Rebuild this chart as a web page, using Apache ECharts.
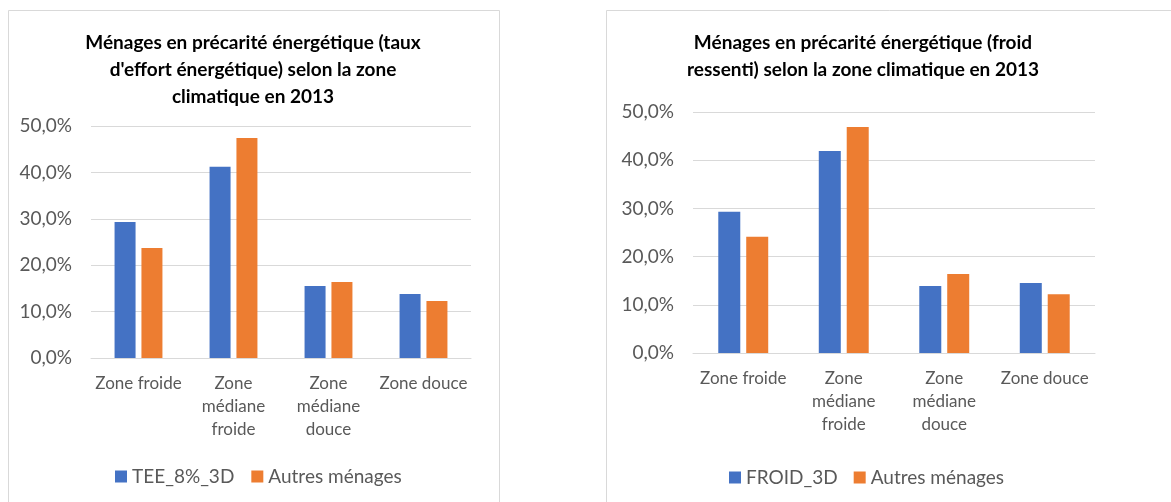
<!DOCTYPE html>
<html>
<head>
<meta charset="utf-8">
<script src="https://cdn.jsdelivr.net/npm/echarts@6/dist/echarts.min.js"></script>
<style>
  html, body { margin: 0; padding: 0; background: #fff; }
  #chart { width: 1171px; height: 502px; }
</style>
</head>
<body>
<div id="chart"></div>
<script>
/* ---------- données ---------- */
const zones = ['Zone froide', 'Zone\nmédiane\nfroide', 'Zone\nmédiane\ndouce', 'Zone douce'];
const teeData = [0.293, 0.412, 0.155, 0.138];
const autresTee = [0.237, 0.474, 0.164, 0.123];
const froidData = [0.293, 0.419, 0.139, 0.145];
const autresFroid = [0.241, 0.469, 0.164, 0.122];

const titleLeft = 'Ménages en précarité énergétique (taux\nd\'effort énergétique) selon la zone\nclimatique en 2013';
const titleRight = 'Ménages en précarité énergétique (froid\nressenti) selon la zone climatique en 2013';

const BLUE = '#4472C4';
const ORANGE = '#ED7D31';
const GRID_LINE = '#d9d9d9';
const LABEL = '#595959';
const FONT = 'Lato, "Open Sans", sans-serif';

const pct = (v) => (v * 100).toFixed(1).replace('.', ',') + '%';

function yAxis(idx) {
  return {
    type: 'value', gridIndex: idx, min: 0, max: 0.5, interval: 0.1,
    axisLabel: { formatter: pct, color: LABEL, fontSize: 19, fontFamily: FONT, margin: 19 },
    splitLine: { lineStyle: { color: GRID_LINE, width: 1 } },
    axisLine: { show: false }, axisTick: { show: false },
  };
}

function xAxis(idx) {
  return {
    type: 'category', gridIndex: idx, data: zones,
    axisTick: { show: false },
    axisLine: { lineStyle: { color: GRID_LINE, width: 1 } },
    axisLabel: { color: LABEL, fontSize: 17, lineHeight: 23, fontFamily: FONT, margin: 14, interval: 0 },
  };
}

function bar(name, data, color, idx, width, gap) {
  return {
    name, type: 'bar', data, xAxisIndex: idx, yAxisIndex: idx,
    barWidth: width, barGap: gap,
    itemStyle: { color },
    emphasis: { disabled: true },
  };
}

const chart = echarts.init(document.getElementById('chart'), null, { renderer: 'canvas' });
chart.setOption({
  animation: false,
  backgroundColor: '#fff',
  graphic: [
    { type: 'rect', shape: { x: 8.5, y: 10.5, width: 491, height: 500 },
      style: { fill: 'none', stroke: GRID_LINE, lineWidth: 1 }, z: -1 },
    { type: 'rect', shape: { x: 606.5, y: 10.5, width: 600, height: 500 },
      style: { fill: 'none', stroke: GRID_LINE, lineWidth: 1 }, z: -1 },
    { type: 'text', x: 253, y: 29,
      style: { text: titleLeft, textAlign: 'center', fill: '#000', font: 'bold 19px ' + FONT, lineHeight: 27 } },
    { type: 'text', x: 863, y: 29,
      style: { text: titleRight, textAlign: 'center', fill: '#000', font: 'bold 19px ' + FONT, lineHeight: 27 } },
  ],
  grid: [
    { left: 91, right: 700, top: 126, bottom: 144 },
    { left: 693, right: 76, top: 112, bottom: 149 },
  ],
  legend: [
    { data: ['TEE_8%_3D', 'Autres ménages'], left: 110, top: 462, icon: 'rect',
      itemWidth: 12, itemHeight: 12, itemGap: 17,
      textStyle: { color: LABEL, fontSize: 19, fontFamily: FONT } },
    { data: ['FROID_3D', 'Autres ménages'], left: 724, top: 463, icon: 'rect',
      itemWidth: 12, itemHeight: 12, itemGap: 16,
      textStyle: { color: LABEL, fontSize: 19, fontFamily: FONT } },
  ],
  xAxis: [xAxis(0), xAxis(1)],
  yAxis: [yAxis(0), yAxis(1)],
  series: [
    bar('TEE_8%_3D', teeData, BLUE, 0, 21, '28%'),
    bar('Autres ménages', autresTee, ORANGE, 0, 21, '28%'),
    bar('FROID_3D', froidData, BLUE, 1, 22, '27%'),
    bar('Autres ménages', autresFroid, ORANGE, 1, 22, '27%'),
  ],
});
</script>
</body>
</html>
